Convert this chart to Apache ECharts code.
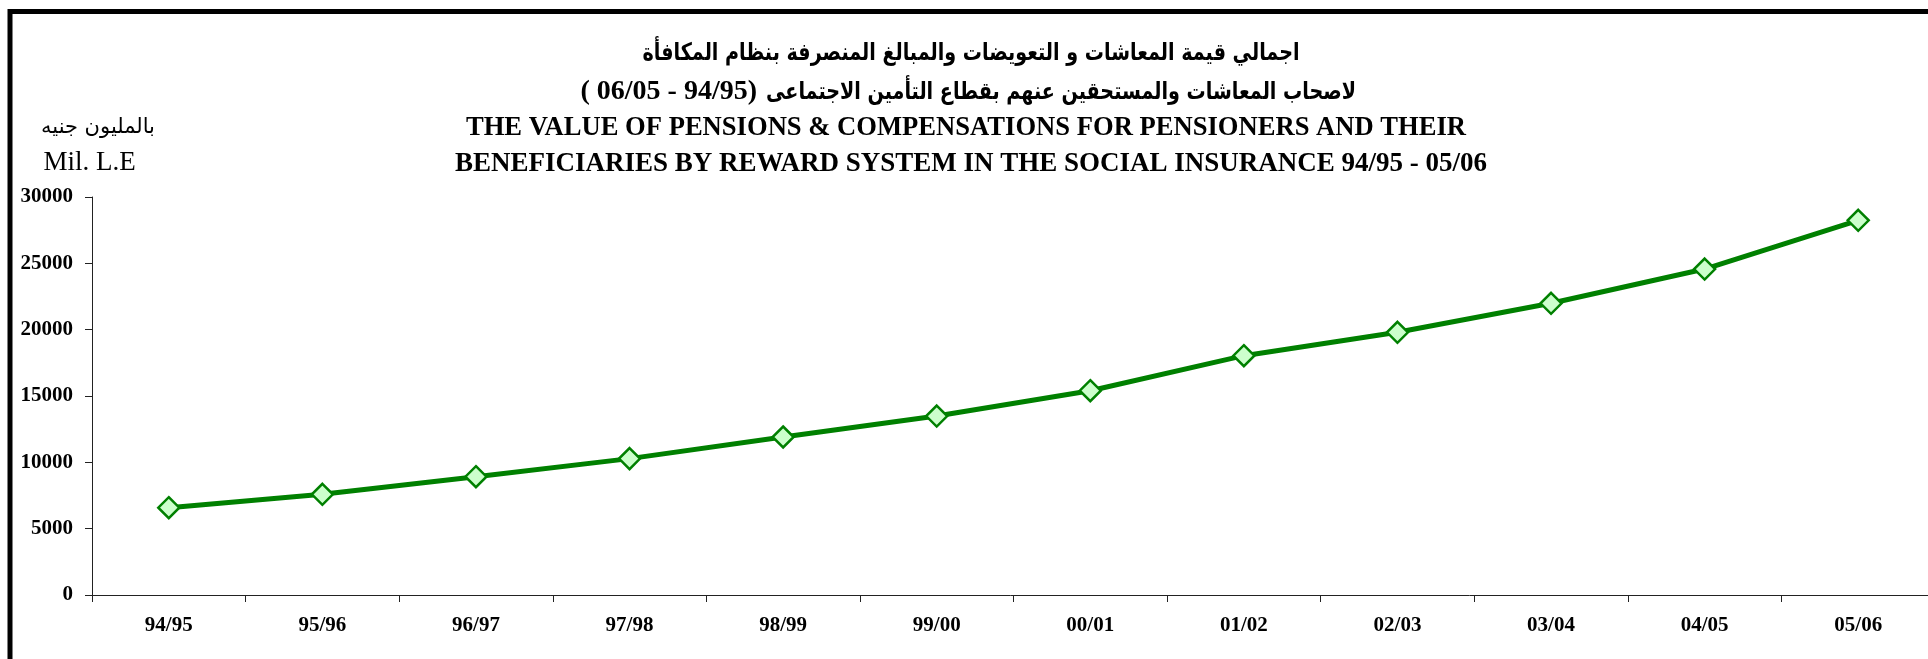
<!DOCTYPE html>
<html>
<head>
<meta charset="utf-8">
<script src="https://cdn.jsdelivr.net/npm/echarts@6/dist/echarts.min.js"></script>
<style>
  html, body { margin: 0; padding: 0; background: #fff; }
  #chart { width: 1928px; height: 659px; }
</style>
</head>
<body>
<div id="chart"></div>
<script>
// Fiscal years on the category axis
const years = ['94/95', '95/96', '96/97', '97/98', '98/99', '99/00',
               '00/01', '01/02', '02/03', '03/04', '04/05', '05/06'];
// Total value of pensions & compensations (million L.E)
const pensionValues = [6580, 7590, 8920, 10280, 11910, 13490,
                       15400, 18040, 19800, 21990, 24570, 28240];
// Value-axis tick labels
const yTicks = [0, 5000, 10000, 15000, 20000, 25000, 30000];

const titleAr1 = 'اجمالي قيمة المعاشات و التعويضات والمبالغ المنصرفة بنظام المكافأة';
const titleAr2 = 'لاصحاب المعاشات والمستحقين عنهم بقطاع التأمين الاجتماعى';
const titleAr2Years = '( 06/05 - 94/95) ';
const titleEn1 = 'THE VALUE OF PENSIONS & COMPENSATIONS FOR PENSIONERS AND THEIR';
const titleEn2 = 'BENEFICIARIES BY REWARD SYSTEM IN THE SOCIAL INSURANCE 94/95 - 05/06';
const unitAr = 'بالمليون جنيه';
const unitEn = 'Mil. L.E';

const serif = "'Liberation Serif', 'Times New Roman', serif";
const arabic = "'DejaVu Sans', sans-serif";
const fontAr = 'bold 24px ' + arabic;

// Horizontal squeeze so the wide Arabic face fits its line width
const measureCtx = document.createElement('canvas').getContext('2d');
function textWidth(text, font) {
  measureCtx.font = font;
  return measureCtx.measureText(text).width;
}
const ar1Scale = 657 / textWidth(titleAr1, fontAr);
const ar2Scale = 590 / textWidth(titleAr2, fontAr);

const chart = echarts.init(document.getElementById('chart'), null, { renderer: 'canvas' });

chart.setOption({
  animation: false,
  backgroundColor: '#ffffff',
  // the plot runs on past the right edge of the frame
  grid: { left: 92, width: 1843, top: 197, bottom: 64, outerBoundsMode: 'none', containLabel: false },
  xAxis: {
    type: 'category',
    data: years,
    boundaryGap: true,
    axisLine: { show: true, lineStyle: { color: '#222', width: 1 } },
    axisTick: { show: true, length: 7, interval: 0, lineStyle: { color: '#222' } },
    axisLabel: {
      interval: 0, margin: 20,
      fontFamily: serif, fontWeight: 'bold', fontSize: 21, color: '#000'
    },
    splitLine: { show: false }
  },
  yAxis: {
    type: 'value',
    min: yTicks[0],
    max: yTicks[yTicks.length - 1],
    interval: yTicks[1] - yTicks[0],
    axisLine: { show: true, lineStyle: { color: '#222', width: 1 } },
    axisTick: { show: true, length: 7, lineStyle: { color: '#222' } },
    axisLabel: {
      margin: 19,
      formatter: (v) => String(v),
      fontFamily: serif, fontWeight: 'bold', fontSize: 21, color: '#000'
    },
    splitLine: { show: false }
  },
  series: [{
    type: 'line',
    data: pensionValues,
    symbol: 'diamond',
    symbolSize: 21,
    showAllSymbol: true,
    lineStyle: { color: '#008000', width: 5 },
    itemStyle: { color: '#CCFFCC', borderColor: '#008000', borderWidth: 2.5 },
    z: 3
  }],
  graphic: [
    {
      type: 'rect', silent: true, z: 100,
      shape: { x: 10, y: 11.5, width: 2000, height: 1000 },
      style: { fill: 'none', stroke: '#000', lineWidth: 5 }
    },
    {
      type: 'text', x: 971, y: 54, scaleX: ar1Scale, silent: true,
      style: {
        text: titleAr1, align: 'center', verticalAlign: 'middle',
        font: fontAr, fill: '#000'
      }
    },
    {
      type: 'text', x: 1356, y: 93, scaleX: ar2Scale, silent: true,
      style: {
        text: titleAr2, align: 'right', verticalAlign: 'middle',
        font: fontAr, fill: '#000'
      }
    },
    {
      type: 'text', x: 764, y: 92, silent: true,
      style: {
        text: titleAr2Years, align: 'right', verticalAlign: 'middle',
        font: 'bold 28px ' + serif, fill: '#000'
      }
    },
    {
      type: 'text', x: 966, y: 128.5, silent: true,
      style: {
        text: titleEn1, align: 'center', verticalAlign: 'middle',
        font: 'bold 26.6px ' + serif, fill: '#000'
      }
    },
    {
      type: 'text', x: 971, y: 164.5, silent: true,
      style: {
        text: titleEn2, align: 'center', verticalAlign: 'middle',
        font: 'bold 27px ' + serif, fill: '#000'
      }
    },
    {
      type: 'text', x: 98, y: 128, silent: true,
      style: {
        text: unitAr, align: 'center', verticalAlign: 'middle',
        font: '21px ' + arabic, fill: '#000'
      }
    },
    {
      type: 'text', x: 89.5, y: 163, silent: true,
      style: {
        text: unitEn, align: 'center', verticalAlign: 'middle',
        font: '27px ' + serif, fill: '#000'
      }
    }
  ]
});
</script>
</body>
</html>
